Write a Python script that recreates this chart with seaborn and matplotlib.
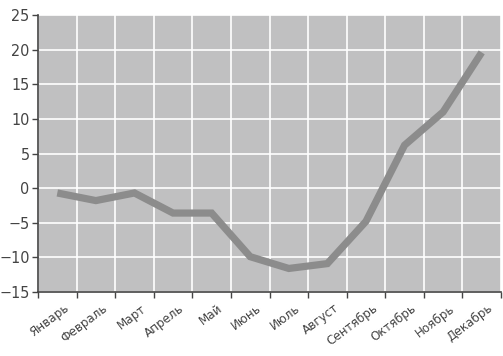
import matplotlib
matplotlib.use("Agg")
import matplotlib.pyplot as plt
import matplotlib.transforms as mtransforms
import seaborn as sns
import pandas as pd
import numpy as np
from matplotlib import font_manager

months = ["Январь", "Февраль", "Март", "Апрель", "Май", "Июнь", "Июль",
          "Август", "Сентябрь", "Октябрь", "Ноябрь", "Декабрь"]
values = [-0.7, -1.8, -0.7, -3.6, -3.6, -9.9, -11.6, -10.9, -4.8, 6.2, 11.0, 19.6]
yticks = [-15, -10, -5, 0, 5, 10, 15, 20, 25]

sns.set_style("ticks")
names = {f.name for f in font_manager.fontManager.ttflist}
fam = "Liberation Sans Narrow" if "Liberation Sans Narrow" in names else "DejaVu Sans"
plt.rcParams['font.family'] = [fam, 'DejaVu Sans']
plt.rcParams['font.stretch'] = 'condensed'

df = pd.DataFrame({"idx": np.arange(len(months)), "month": months, "value": values})

fig = plt.figure(figsize=(5.03, 3.56), dpi=100)
ax = fig.add_axes([38/503, 1-292/356, (501-38)/503, (292-15)/356])
ax.set_facecolor("#c0c0c1")

sns.lineplot(data=df, x="idx", y="value", ax=ax, color="#8c8c8c", linewidth=5.2,
             solid_capstyle="butt", solid_joinstyle="miter", zorder=3)

n = len(months)
ax.set_xlim(-0.5, n - 0.5)
ax.set_ylim(-15, 25)
ax.set_xticks(np.arange(-0.5, n, 1.0))
ax.set_xticklabels([])
ax.set_xticks(np.arange(n), minor=True)
ax.set_xticklabels(months, minor=True, rotation=37, ha="right", rotation_mode="anchor",
                   fontsize=9.5, color="#444444", fontstretch="condensed")
ax.tick_params(axis="x", which="minor", length=0, pad=7)
ax.tick_params(axis="x", which="major", length=4, width=1, color="#444444", direction="out")
offset = mtransforms.ScaledTranslation(6/100, 0, fig.dpi_scale_trans)
for lab in ax.get_xticklabels(minor=True):
    lab.set_transform(lab.get_transform() + offset)
ax.set_yticks(yticks)
ax.set_yticklabels([str(v).replace("-", "\u2212") for v in yticks], fontsize=11.5,
                   color="#444444", fontstretch="condensed")
ax.tick_params(axis="y", length=4, width=1, color="#444444", pad=2)

ax.grid(True, which="major", color="white", linewidth=1.2)
ax.set_axisbelow(True)
for s in ["top", "right"]:
    ax.spines[s].set_visible(False)
for s in ["left", "bottom"]:
    ax.spines[s].set_color("#444444")
    ax.spines[s].set_linewidth(1.2)
    ax.spines[s].set_zorder(4)
ax.set_xlabel("")
ax.set_ylabel("")

fig.savefig("out.png", dpi=100)
